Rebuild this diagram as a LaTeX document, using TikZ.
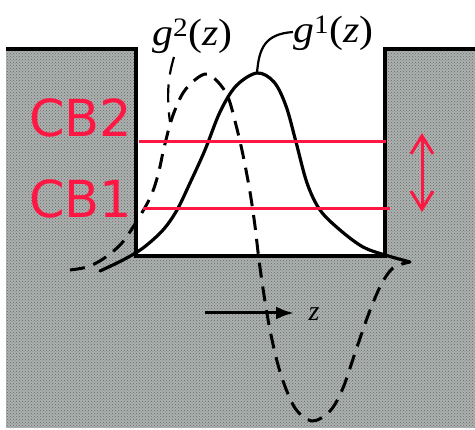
\documentclass[tikz,border=0pt]{standalone}
\usepackage{fontspec}
\setmainfont{Liberation Serif}
\newfontfamily\cbfont{DejaVu Sans}
\usetikzlibrary{arrows.meta,patterns}
\definecolor{cbred}{RGB}{255,23,68}
\definecolor{rockgray}{RGB}{172,178,176}
\begin{document}
\begin{tikzpicture}[x=1pt,y=-1pt,
  wall/.style={line width=3.2pt, line join=miter},
  solidcurve/.style={line width=3.2pt, line cap=round},
  dashcurve/.style={line width=3pt, dash pattern=on 15pt off 9pt},
  leader/.style={line width=2.2pt},
  cbline/.style={draw=cbred, line width=3pt},
  cblabel/.style={text=cbred, font=\cbfont\fontsize{51}{51}\selectfont, inner sep=0pt, anchor=base west},
  glabel/.style={font=\fontsize{38}{38}\selectfont, inner sep=0pt, anchor=base west}]
\useasboundingbox (0,0) rectangle (475,430);
\fill[white] (0,0) rectangle (475,430);
% barrier material
\fill[rockgray] (6,48) -- (136,48) -- (136,256) -- (385,256) -- (385,48) -- (475,48) -- (475,428) -- (6,428) -- cycle;
\fill[pattern=crosshatch dots, pattern color=black!60] (6,48) -- (136,48) -- (136,256) -- (385,256) -- (385,48) -- (475,48) -- (475,428) -- (6,428) -- cycle;
% well outline
\draw[wall] (6,49) -- (136,49) -- (136,256) -- (385,256) -- (385,49) -- (475,49);
% g1 (solid)
\draw[solidcurve] plot[smooth, tension=0.55] coordinates {(100,271) (123,260) (143,248) (163,230) (177,210) (190,183) (205,150) (220,112) (236,86) (257,73) (274,82) (286,106) (296,142) (307,183) (320,210) (340,230) (363,247) (385,255) (410,262)};
% g2 (dashed)
\draw[dashcurve] plot[smooth, tension=0.55] coordinates {(70,270) (87,267) (103,259) (121,244) (135,224) (150,198) (158,175) (164,148) (172,118) (183,93) (196,79) (207,74) (218,82) (228,97) (236,125) (243,155) (250,192) (255,226) (259,260) (264,295) (271,335) (281,375) (295,408) (312,421) (330,411) (343,388) (356,350) (369,313) (381,285) (393,268) (410,262)};
% labels
\node[glabel] (lblg2) at (152,46) {\scalebox{1.1}[1]{\textit{g}\textsuperscript{2}(\textit{z})}};
\node[glabel] (lblg1) at (293,43) {\scalebox{1.1}[1]{\textit{g}\textsuperscript{1}(\textit{z})}};
\coordinate (g1peak) at (257,73);
\coordinate (g2hook) at (170,122);
\draw[leader] (g1peak) .. controls (259,48) and (265,34) .. (lblg1.west |- 0,32);
\draw[leader, dash pattern=on 18pt off 10pt] (174,57) .. controls (167,80) and (167,100) .. (g2hook);
% z axis arrow
\coordinate (zs) at (205,313);
\coordinate (ze) at (294,313);
\draw[line width=3pt, -{Latex[length=18pt,width=13pt]}] (zs) -- (ze);
\node[font=\fontsize{28}{28}\selectfont, inner sep=0pt] (lblz) at (314,314) {\textit{z}};
% conduction band levels
\draw[cbline] (139,142) coordinate (cb2l) -- (386,142) coordinate (cb2r);
\draw[cbline] (143,209) coordinate (cb1l) -- (390,209) coordinate (cb1r);
\node[cblabel] (cb2) at (29,137) {CB2};
\node[cblabel] (cb1) at (29,218) {CB1};
\coordinate (arrtop) at (422,133);
\coordinate (arrbot) at (422,212);
\draw[draw=cbred, line width=3pt, {Straight Barb[length=18pt,width=22pt,line width=3pt]}-{Straight Barb[length=18pt,width=22pt,line width=3pt]}] (arrtop) -- (arrbot);
\end{tikzpicture}
\end{document}
